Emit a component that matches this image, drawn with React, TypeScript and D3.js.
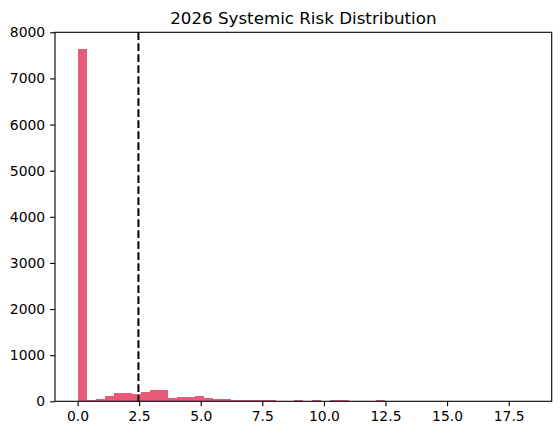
import * as d3 from "d3";
import { useEffect, useRef } from "react";

// histogram of simulated losses, 50 equal bins between min and max
const binMin = 0;
const binMax = 18.33;
const counts = [
  7640, 20, 55, 110, 170, 175, 150, 200, 240, 240,
  70, 85, 90, 110, 65, 45, 40, 35, 25, 22,
  20, 20, 3, 2, 18, 2, 18, 3, 20, 20,
  2, 1, 1, 18, 1, 0, 1, 0, 0, 1,
  0, 0, 0, 1, 0, 0, 0, 0, 0, 1,
];
const meanLine = 2.47;
const xTicks = [0, 2.5, 5, 7.5, 10, 12.5, 15, 17.5];
const yTicks = [0, 1000, 2000, 3000, 4000, 5000, 6000, 7000, 8000];
const title = "2026 Systemic Risk Distribution";

export default function App() {
  const ref = useRef<SVGSVGElement | null>(null);
  const width = 560;
  const height = 435;

  useEffect(() => {
    if (!ref.current) return;
    const svg = d3.select(ref.current);
    svg.selectAll("*").remove();

    const left = 55, right = 551.7, top = 32.3, bottom = 401.3;
    const span = binMax - binMin;

    const x = d3.scaleLinear()
      .domain([binMin - span * 0.05, binMax + span * 0.05])
      .range([left, right]);
    const y = d3.scaleLinear()
      .domain([0, 8000])
      .range([bottom, top]);

    const binW = span / counts.length;

    // Bars
    svg.append("g")
      .selectAll("rect")
      .data(counts)
      .join("rect")
      .attr("x", (_, i) => x(binMin + i * binW))
      .attr("width", (_, i) => x(binMin + (i + 1) * binW) - x(binMin + i * binW))
      .attr("y", d => y(d))
      .attr("height", d => bottom - y(d))
      .attr("fill", "#e75b79")
      .attr("shape-rendering", "crispEdges");

    // Mean line
    svg.append("line")
      .attr("x1", x(meanLine))
      .attr("x2", x(meanLine))
      .attr("y1", top)
      .attr("y2", bottom)
      .attr("stroke", "#000")
      .attr("stroke-width", 2)
      .attr("stroke-dasharray", "7.7,3.3");

    // Axes
    const xAxis = svg.append("g")
      .attr("transform", `translate(0,${bottom})`)
      .call(d3.axisBottom(x).tickValues(xTicks).tickFormat(d3.format(".1f")).tickSize(4.9).tickPadding(4.9));
    const yAxis = svg.append("g")
      .attr("transform", `translate(${left},0)`)
      .call(d3.axisLeft(y).tickValues(yTicks).tickFormat(d3.format("d")).tickSize(4.9).tickPadding(4.9));

    [xAxis, yAxis].forEach(a => {
      a.select(".domain").remove();
      a.selectAll("line").attr("stroke", "#000").attr("stroke-width", 1.1);
      a.selectAll("text")
        .attr("fill", "#000")
        .attr("font-family", "DejaVu Sans")
        .attr("font-size", 13.9);
    });

    // Frame
    svg.append("rect")
      .attr("x", left)
      .attr("y", top)
      .attr("width", right - left)
      .attr("height", bottom - top)
      .attr("fill", "none")
      .attr("stroke", "#000")
      .attr("stroke-width", 1.1);

    svg.append("text")
      .attr("x", (left + right) / 2)
      .attr("y", top - 8.3)
      .attr("text-anchor", "middle")
      .attr("font-family", "DejaVu Sans")
      .attr("font-size", 16.7)
      .attr("fill", "#000")
      .text(title);
  }, []);

  return (
    <div style={{ position: "fixed", left: 0, top: 0 }}>
      <svg ref={ref} width={width} height={height} style={{ display: "block", background: "#fff" }} />
    </div>
  );
}
